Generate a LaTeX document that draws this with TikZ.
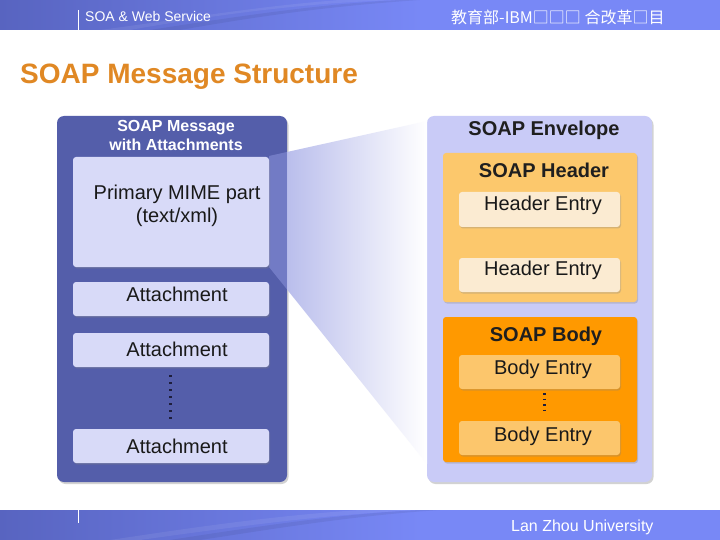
\documentclass[tikz,border=0pt]{standalone}
\usepackage{fontspec}
\setmainfont{Liberation Sans}
\newfontfamily\cjk{Noto Sans CJK SC}
\usetikzlibrary{shadows,positioning}
\definecolor{barlo}{RGB}{88,100,192}
\definecolor{barhi}{RGB}{120,136,246}
\definecolor{msgblue}{RGB}{84,94,170}
\definecolor{partlav}{RGB}{216,218,248}
\definecolor{envlav}{RGB}{201,203,247}
\definecolor{beamlav}{RGB}{140,148,220}
\definecolor{beamstart}{RGB}{186,190,236}
\definecolor{hdramber}{RGB}{252,200,108}
\definecolor{hdrcream}{RGB}{251,235,210}
\definecolor{bdyorange}{RGB}{255,153,0}
\definecolor{bdyentry}{RGB}{252,198,108}
\definecolor{titleorange}{RGB}{224,136,36}
\definecolor{dashnavy}{RGB}{30,30,60}
\tikzset{
  sobar/.style={left color=barlo, right color=barhi},
  soswoosh/.style={fill=white, opacity=0.07},
  sobartext/.style={text=white, anchor=west, inner sep=0pt},
  sopanel/.style={rounded corners=7pt, inner sep=0pt, drop shadow={shadow xshift=1.5pt, shadow yshift=-2pt, opacity=0.35}},
  sobox/.style={rounded corners=3pt, inner sep=0pt, drop shadow={shadow xshift=1pt, shadow yshift=-1.5pt, opacity=0.3}},
  sotext/.style={font=\fontsize{20}{23}\selectfont, align=center, inner sep=0pt, text=black!90},
  sohead/.style={font=\bfseries\fontsize{20}{23}\selectfont, inner sep=0pt, text=black!88},
  sodots/.style={line width=3pt, draw=dashnavy, dash pattern=on 1.5pt off 5.5pt},
  sobeam/.style={left color=beamstart, right color=white},
  sobeamin/.style={fill=beamlav, fill opacity=0.55},
}
\begin{document}
\begin{tikzpicture}[x=1pt, y=-1pt]
\useasboundingbox (0,0) rectangle (720,540);
\fill[white] (0,0) rectangle (720,540);
% top and bottom bars
\fill[sobar] (0,0) rectangle (420,30);
\fill[barhi] (420,0) rectangle (720,30);
\fill[soswoosh] (130,30) .. controls (230,12) and (320,2) .. (400,0) -- (340,0) .. controls (260,6) and (190,18) .. (100,30) -- cycle;
\fill[black, opacity=0.06] (180,30) .. controls (260,16) and (330,6) .. (420,0) -- (400,0) .. controls (320,4) and (240,16) .. (150,30) -- cycle;
\fill[sobar] (0,510) rectangle (420,540);
\fill[barhi] (420,510) rectangle (720,540);
\fill[soswoosh] (140,540) .. controls (240,526) and (330,514) .. (420,510) -- (360,510) .. controls (270,516) and (190,528) .. (110,540) -- cycle;
\fill[black, opacity=0.06] (200,540) .. controls (280,528) and (350,516) .. (440,510) -- (420,510) .. controls (340,514) and (260,526) .. (170,540) -- cycle;
\draw[white, line width=0.8pt] (78,10) -- (78,30);
\draw[white, line width=0.8pt] (78,510) -- (78,523);
\node[sobartext, font=\fontsize{14}{16}\selectfont] (course) at (85,16) {SOA \& Web Service};
\node[sobartext, font=\cjk\fontsize{16}{18}\selectfont] (project) at (451,17) {教育部-IBM□□□ 合改革□目};
\node[sobartext, font=\fontsize{16}{18}\selectfont] (univ) at (511,527) {Lan Zhou University};
% title
\node[anchor=west, inner sep=0pt, text=titleorange, font=\bfseries\fontsize{28}{32}\selectfont] (title) at (20,77) {SOAP Message Structure};
% message with attachments
\node[sopanel, fill=msgblue, minimum width=230pt, minimum height=366pt] (msg) at (172,299) {};
\node[inner sep=0pt, text=white, align=center, font=\bfseries\fontsize{16}{19}\selectfont] (msgt) at (176,135) {SOAP Message\\with Attachments};
% envelope
\node[sopanel, fill=envlav, minimum width=225pt, minimum height=366pt] (env) at (539.5,299) {};
\shade[sobeam] (287,152) -- (427,121) -- (427,464) -- (287,289.4) -- cycle;
\fill[sobeamin] (269,156) -- (287,152) -- (287,289.4) -- (269,267) -- cycle;
\node[sobox, fill=partlav, minimum width=196pt, minimum height=110pt] (mime) at (171,212) {};
\node[sotext] (mimet) at ([xshift=6pt, yshift=6.5pt]mime.center) {Primary MIME part\\(text/xml)};
\node[sobox, fill=partlav, minimum width=196pt, minimum height=34pt] (att1) at (171,299) {};
\node[sobox, fill=partlav, minimum width=196pt, minimum height=34pt] (att2) at (171,350) {};
\node[sobox, fill=partlav, minimum width=196pt, minimum height=34pt] (att3) at (171,446) {};
\node[sotext] (att1t) at ([xshift=6pt, yshift=5pt]att1.center) {Attachment};
\node[sotext] (att2t) at ([xshift=6pt, yshift=1pt]att2.center) {Attachment};
\node[sotext] (att3t) at ([xshift=6pt]att3.center) {Attachment};
\draw[sodots] ([xshift=-1pt, yshift=-8pt]att2.south) -- ([xshift=-1pt, yshift=8pt]att3.north);
% envelope contents
\node[sohead] (envt) at (544,130) {SOAP Envelope};
\node[sobox, fill=hdramber, minimum width=194pt, minimum height=149pt] (hdr) at (540,227.5) {};
\node[sohead] (hdrt) at (544,170.5) {SOAP Header};
\node[sobox, fill=hdrcream, minimum width=161pt, minimum height=35pt] (he1) at (539.5,209.5) {};
\node[sobox, fill=hdrcream, minimum width=161pt, minimum height=34pt] (he2) at (539.5,275) {};
\node[sotext] (he1t) at ([xshift=3.5pt, yshift=4.5pt]he1.center) {Header Entry};
\node[sotext] (he2t) at ([xshift=3.5pt, yshift=5pt]he2.center) {Header Entry};
\node[sobox, fill=bdyorange, minimum width=194pt, minimum height=145pt] (bdy) at (540,389.5) {};
\node[sohead] (bdyt) at (546,336) {SOAP Body};
\node[sobox, fill=bdyentry, minimum width=161pt, minimum height=34pt] (be1) at (539.5,372) {};
\node[sobox, fill=bdyentry, minimum width=161pt, minimum height=34pt] (be2) at (539.5,438) {};
\node[sotext] (be1t) at ([xshift=3.5pt, yshift=3pt]be1.center) {Body Entry};
\node[sotext] (be2t) at ([xshift=3.5pt, yshift=2pt]be2.center) {Body Entry};
\draw[sodots, line width=3pt, dash pattern=on 1.5pt off 4pt] ([xshift=4.5pt, yshift=-4pt]be1.south) -- ([xshift=4.5pt, yshift=8pt]be2.north);
\end{tikzpicture}
\end{document}
